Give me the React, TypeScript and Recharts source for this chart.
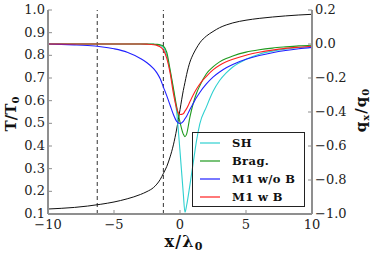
import React from 'react';
import { LineChart, Line, XAxis, YAxis, ReferenceLine, Legend } from 'recharts';

const xValues = [-10, -9, -8, -7, -6, -5, -4, -3, -2.5, -2, -1.75, -1.5, -1.25, -1, -0.75, -0.5, -0.25, 0, 0.25, 0.375, 0.5, 0.75, 1, 1.25, 1.5, 2, 2.5, 3, 3.5, 4, 5, 6, 7, 8, 9, 10];

const tempT = [0.122, 0.125, 0.129, 0.135, 0.143, 0.153, 0.167, 0.186, 0.199, 0.217, 0.232, 0.252, 0.28, 0.31, 0.352, 0.405, 0.475, 0.56, 0.645, 0.68, 0.715, 0.77, 0.805, 0.832, 0.855, 0.885, 0.905, 0.922, 0.934, 0.943, 0.955, 0.963, 0.969, 0.974, 0.978, 0.981];

const qSH = [0, 0, 0, 0, 0, 0, 0, 0, -0.001, -0.002, -0.004, -0.009, -0.022, -0.07, -0.16, -0.27, -0.4, -0.63, -0.88, -0.99, -0.95, -0.83, -0.7, -0.57, -0.47, -0.37, -0.28, -0.215, -0.17, -0.135, -0.09, -0.06, -0.042, -0.03, -0.021, -0.015];

const qBrag = [0, 0, 0, 0, 0, 0, 0, 0, 0, -0.001, -0.002, -0.005, -0.013, -0.05, -0.15, -0.26, -0.37, -0.46, -0.53, -0.545, -0.53, -0.43, -0.35, -0.29, -0.245, -0.175, -0.135, -0.105, -0.085, -0.07, -0.048, -0.034, -0.024, -0.017, -0.011, -0.007];

const qM1noB = [0, -0.002, -0.005, -0.009, -0.016, -0.028, -0.048, -0.085, -0.11, -0.145, -0.17, -0.205, -0.255, -0.305, -0.36, -0.415, -0.455, -0.468, -0.455, -0.44, -0.425, -0.385, -0.35, -0.315, -0.285, -0.235, -0.195, -0.165, -0.14, -0.12, -0.09, -0.068, -0.051, -0.038, -0.028, -0.02];

const qM1B = [0, 0, 0, 0, 0, 0, 0, 0, -0.001, -0.004, -0.008, -0.017, -0.036, -0.085, -0.17, -0.29, -0.38, -0.415, -0.41, -0.395, -0.38, -0.34, -0.3, -0.265, -0.235, -0.19, -0.152, -0.125, -0.105, -0.09, -0.066, -0.049, -0.036, -0.026, -0.019, -0.013];

const dashedX = [-6.27, -1.26];
const xTicks = [-10, -5, 0, 5, 10];
const tTicks = [0.1, 0.2, 0.3, 0.4, 0.5, 0.6, 0.7, 0.8, 0.9, 1.0];
const qTicks = [-1.0, -0.8, -0.6, -0.4, -0.2, 0.0, 0.2];

const series = [
  { key: 'SH', name: 'SH', color: '#2fd0d0' },
  { key: 'Brag', name: 'Brag.', color: '#1f9a1f' },
  { key: 'M1noB', name: 'M1 w/o B', color: '#2020ff' },
  { key: 'M1B', name: 'M1 w B', color: '#ff2020' },
];

const data = xValues.map((x, i) => ({
  x,
  T: tempT[i],
  SH: qSH[i],
  Brag: qBrag[i],
  M1noB: qM1noB[i],
  M1B: qM1B[i],
}));

const SERIF = '"DejaVu Serif", "Liberation Serif", serif';
const SPINE = '#8f8f8f';
const TICKLEN = 4;

const fmt = (v: number) => (v < 0 ? '\u2212' : '') + Math.abs(v).toFixed(1);
const fmtX = (v: number) => (v < 0 ? '\u2212' : '') + Math.abs(v).toString();

const BottomTick = (p: any) => {
  const m = 5;
  return (
    <g>
      <line x1={p.x} x2={p.x} y1={p.y - m} y2={p.y - m - TICKLEN} stroke={SPINE} strokeWidth={1} />
      <text x={p.x} y={p.y} dy="0.74em" textAnchor="middle" fontFamily={SERIF} fontSize={13} fill="#222">
        {fmtX(p.payload.value)}
      </text>
    </g>
  );
};

const TopTick = (p: any) => (
  <line x1={p.x} x2={p.x} y1={p.y} y2={p.y + TICKLEN} stroke={SPINE} strokeWidth={1} />
);

const LeftTick = (p: any) => {
  const m = 3;
  return (
    <g>
      <line x1={p.x + m} x2={p.x + m + TICKLEN} y1={p.y} y2={p.y} stroke={SPINE} strokeWidth={1} />
      <text x={p.x} y={p.y} dy="0.3em" textAnchor="end" fontFamily={SERIF} fontSize={13} fill="#222">
        {p.payload.value.toFixed(1)}
      </text>
    </g>
  );
};

const RightTick = (p: any) => {
  const m = 3;
  return (
    <g>
      <line x1={p.x - m} x2={p.x - m - TICKLEN} y1={p.y} y2={p.y} stroke={SPINE} strokeWidth={1} />
      <text x={p.x} y={p.y} dy="0.3em" textAnchor="start" fontFamily={SERIF} fontSize={13} fill="#222">
        {fmt(p.payload.value)}
      </text>
    </g>
  );
};

const renderLegend = () => (
  <div
    style={{
      width: 113,
      height: 75,
      boxSizing: 'border-box',
      border: '1px solid #222',
      position: 'relative',
      fontFamily: SERIF,
      fontWeight: 'bold',
      fontSize: 11.5,
      color: '#111',
      letterSpacing: 0.4,
    }}
  >
    {series.map((s, i) => (
      <div
        key={s.key}
        style={{ position: 'absolute', left: 0, top: 1 + i * 18, height: 18, display: 'flex', alignItems: 'center', whiteSpace: 'nowrap' }}
      >
        <svg width={39} height={18} style={{ display: 'block' }}>
          <line x1={7} x2={27} y1={9} y2={9} stroke={s.color} strokeWidth={1.2} />
        </svg>
        <span style={{ lineHeight: '18px' }}>{s.name}</span>
      </div>
    ))}
  </div>
);

export default function App() {
  return (
    <div style={{ position: 'absolute', left: 0, top: 0, width: 374, height: 254, background: '#fff' }}>
      <LineChart width={374} height={254} data={data} margin={{ top: 10, right: 0, bottom: 0, left: 0 }}>
        <XAxis
          xAxisId="b"
          dataKey="x"
          type="number"
          domain={[-10, 10]}
          ticks={xTicks}
          interval={0}
          orientation="bottom"
          height={40}
          allowDataOverflow
          axisLine={{ stroke: SPINE, strokeWidth: 2 }}
          tickLine={false}
          tickSize={0}
          tickMargin={5}
          tick={(p: any) => <BottomTick {...p} />}
          label={{
            content: () => (
              <text x={184} y={247} textAnchor="middle" fontFamily={SERIF} fontWeight="bold" fontSize={16} fill="#111" letterSpacing={1.2}>
                x/λ<tspan fontSize={11} dy={3}>0</tspan>
              </text>
            ),
          }}
        />
        <XAxis
          xAxisId="t"
          dataKey="x"
          type="number"
          domain={[-10, 10]}
          ticks={xTicks}
          interval={0}
          orientation="top"
          height={0}
          allowDataOverflow
          axisLine={{ stroke: SPINE, strokeWidth: 2 }}
          tickLine={false}
          tickSize={0}
          tickMargin={0}
          tick={(p: any) => <TopTick {...p} />}
        />
        <YAxis
          yAxisId="T"
          orientation="left"
          width={48}
          type="number"
          domain={[0.1, 1.0]}
          ticks={tTicks}
          interval={0}
          allowDataOverflow
          axisLine={{ stroke: SPINE, strokeWidth: 2 }}
          tickLine={false}
          tickSize={0}
          tickMargin={3}
          tick={(p: any) => <LeftTick {...p} />}
          label={{
            content: () => (
              <text transform="translate(16,114) rotate(-90)" textAnchor="middle" fontFamily={SERIF} fontWeight="bold" fontSize={15} fill="#111">
                T/T<tspan fontSize={10} dy={3}>0</tspan>
              </text>
            ),
          }}
        />
        <YAxis
          yAxisId="q"
          orientation="right"
          width={62}
          type="number"
          domain={[-1.0, 0.2]}
          ticks={qTicks}
          interval={0}
          allowDataOverflow
          axisLine={{ stroke: SPINE, strokeWidth: 2 }}
          tickLine={false}
          tickSize={0}
          tickMargin={3}
          tick={(p: any) => <RightTick {...p} />}
          label={{
            content: () => (
              <text transform="translate(366,110) rotate(-90)" textAnchor="middle" fontFamily={SERIF} fontWeight="bold" fontSize={15} fill="#111" letterSpacing={1}>
                q<tspan fontSize={10} dy={3}>x</tspan><tspan dy={-3}>/q</tspan><tspan fontSize={10} dy={3}>0</tspan>
              </text>
            ),
          }}
        />
        {dashedX.map((dx) => (
          <ReferenceLine key={dx} x={dx} xAxisId="b" yAxisId="T" stroke="#333" strokeWidth={1} strokeDasharray="4 3" />
        ))}
        <Line xAxisId="b" yAxisId="T" dataKey="T" type="monotone" stroke="#111" strokeWidth={1} dot={false} isAnimationActive={false} legendType="none" />
        {series.map((s) => (
          <Line
            key={s.key}
            xAxisId="b"
            yAxisId="q"
            dataKey={s.key}
            name={s.name}
            type="monotone"
            stroke={s.color}
            strokeWidth={1.1}
            dot={false}
            isAnimationActive={false}
          />
        ))}
        <Legend
          layout="vertical"
          align="center"
          verticalAlign="middle"
          content={renderLegend}
          wrapperStyle={{ position: 'absolute', left: 192, top: 132, width: 113, height: 75 }}
        />
      </LineChart>
    </div>
  );
}
